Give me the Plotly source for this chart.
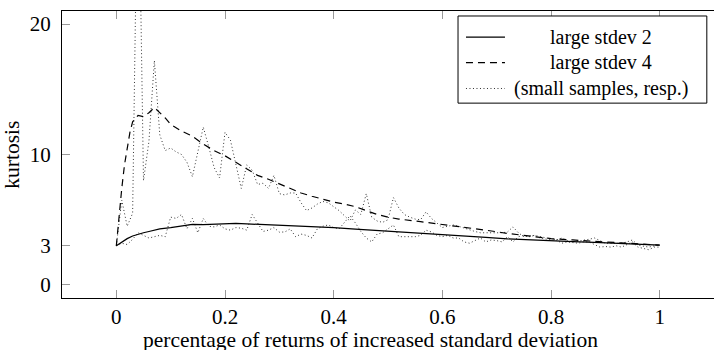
import plotly.graph_objects as go

# ---------------- data ----------------
# smooth curves (large samples)
x_l2 = [0, 0.01, 0.02, 0.03, 0.04, 0.05, 0.06, 0.08, 0.10, 0.12, 0.14, 0.16, 0.18, 0.20,
        0.22, 0.24, 0.26, 0.28, 0.30, 0.32, 0.36, 0.40, 0.44, 0.48, 0.52, 0.56, 0.60,
        0.64, 0.68, 0.72, 0.76, 0.80, 0.84, 0.88, 0.92, 0.96, 1.00]
y_l2 = [3.0, 3.3, 3.55, 3.75, 3.9, 4.0, 4.1, 4.3, 4.4, 4.55, 4.65, 4.62, 4.65, 4.7,
        4.72, 4.68, 4.65, 4.6, 4.58, 4.55, 4.48, 4.4, 4.28, 4.18, 4.1, 4.0, 3.9,
        3.78, 3.65, 3.53, 3.45, 3.38, 3.32, 3.27, 3.2, 3.12, 3.05]

x_l4 = [0, 0.005, 0.01, 0.015, 0.02, 0.025, 0.03, 0.04, 0.05, 0.06, 0.07, 0.08, 0.09,
        0.10, 0.12, 0.14, 0.16, 0.18, 0.20, 0.22, 0.24, 0.26, 0.28, 0.30, 0.32, 0.34,
        0.36, 0.38, 0.40, 0.42, 0.44, 0.46, 0.48, 0.50, 0.52, 0.56, 0.60, 0.64, 0.68,
        0.72, 0.76, 0.80, 0.84, 0.88, 0.92, 0.96, 1.00]
y_l4 = [3.0, 5.3, 7.4, 9.2, 10.6, 11.7, 12.5, 13.0, 12.9, 13.2, 13.6, 13.2, 12.8,
        12.3, 11.8, 11.4, 10.8, 10.3, 9.9, 9.4, 8.9, 8.4, 8.1, 7.75, 7.4, 7.05,
        6.8, 6.55, 6.35, 6.2, 6.0, 5.7, 5.4, 5.2, 5.05, 4.85, 4.65, 4.45, 4.2,
        3.95, 3.75, 3.55, 3.45, 3.35, 3.25, 3.15, 3.05]

# small-sample curves, x = 0.00, 0.01, ..., 1.00
x_small = [round(k / 100, 2) for k in range(101)]
y_s2 = [3.0, 3.2, 3.1, 3.5, 4.0, 3.8, 3.6, 3.7, 3.8, 3.7,
        5.2, 5.1, 5.4, 4.3, 5.1, 4.0, 5.1, 4.5, 4.45, 4.6,
        4.3, 4.2, 4.4, 4.35, 4.2, 5.4, 4.7, 4.1, 4.2, 4.4,
        4.05, 4.06, 4.3, 3.7, 3.9, 3.8, 3.6, 4.3, 4.5, 4.6,
        4.4, 4.3, 4.8, 5.3, 4.75, 4.1, 3.6, 3.3, 3.9, 4.0,
        4.3, 4.6, 3.7, 3.7, 3.7, 3.7, 3.8, 4.2, 4.06, 3.8,
        3.7, 3.8, 3.6, 3.6, 3.3, 3.2, 3.4, 3.6, 3.3, 3.45,
        3.4, 3.3, 3.7, 3.3, 3.7, 3.8, 3.7, 3.8, 3.6, 3.5,
        3.45, 3.45, 3.2, 3.3, 3.25, 3.2, 3.3, 3.3, 3.1, 2.9,
        2.95, 2.9, 3.0, 2.9, 3.1, 3.3, 2.9, 2.8, 2.7, 2.9,
        2.9]
y_s4 = [3.0, 6.5, 4.5, 5.5, 35.0, 8.0, 11.0, 17.2, 11.5, 10.3,
        10.5, 10.2, 10.0, 9.4, 8.3, 10.2, 12.1, 10.6, 9.0, 8.2,
        11.7, 11.1, 9.2, 7.4, 9.2, 8.8, 7.7, 7.8, 7.4, 8.4,
        7.0, 6.9, 7.05, 7.05, 6.3, 5.7, 5.9, 6.2, 6.4, 6.3,
        6.0, 5.7, 5.3, 4.9, 5.75, 5.4, 7.0, 5.2, 4.9, 4.8,
        5.0, 6.7, 5.9, 5.4, 5.2, 5.05, 5.0, 5.6, 5.1, 4.75,
        4.4, 4.5, 4.6, 4.5, 4.37, 4.2, 4.1, 4.0, 4.0, 4.0,
        4.0, 4.0, 4.06, 4.45, 4.0, 3.7, 3.75, 3.8, 3.7, 3.6,
        3.5, 3.45, 3.6, 3.4, 3.3, 3.35, 3.45, 3.5, 3.6, 3.4,
        3.2, 3.2, 3.2, 3.2, 3.3, 3.45, 3.05, 3.0, 2.9, 3.0,
        3.05]

x_ticks = [0, 0.2, 0.4, 0.6, 0.8, 1]
x_ticktext = ["0", "0.2", "0.4", "0.6", "0.8", "1"]
y_ticks = [0, 3, 10, 20]
legend_labels = ["large stdev 2", "large stdev 4", "(small samples, resp.)"]
x_title = "percentage of returns of increased standard deviation"
y_title = "kurtosis"

# ---------------- figure ----------------
FONT = "Liberation Serif"
DOT = "1px,2.5px"
DASH = "7px,5px"
DOTCOL = "#333"

fig = go.Figure()
fig.add_trace(go.Scatter(x=x_small, y=y_s2, mode="lines",
                         line=dict(color=DOTCOL, width=1, dash=DOT), showlegend=False))
fig.add_trace(go.Scatter(x=x_small, y=y_s4, mode="lines",
                         line=dict(color=DOTCOL, width=1, dash=DOT), showlegend=False))
fig.add_trace(go.Scatter(x=x_l4, y=y_l4, mode="lines",
                         line=dict(color="black", width=1.2, dash=DASH), showlegend=False))
fig.add_trace(go.Scatter(x=x_l2, y=y_l2, mode="lines",
                         line=dict(color="black", width=1.2), showlegend=False))

# manual legend (box, samples, centred labels)
bx0, bx1, by0, by1 = 0.6074, 0.989, 0.679, 0.9826
fig.add_shape(type="rect", xref="paper", yref="paper", x0=bx0, x1=bx1, y0=by0, y1=by1,
              line=dict(color="black", width=1), fillcolor="white", layer="above")
rows = [0.909, 0.820, 0.730]
styles = [dict(color="black", width=1.2),
          dict(color="black", width=1.2, dash=DASH),
          dict(color=DOTCOL, width=1, dash=DOT)]
for lab, ry, st in zip(legend_labels, rows, styles):
    fig.add_shape(type="line", xref="paper", yref="paper", x0=0.6196, x1=0.6794,
                  y0=ry, y1=ry, line=st, layer="above")
    fig.add_annotation(xref="paper", yref="paper", x=0.826, y=ry, text=lab,
                       showarrow=False, xanchor="center", yanchor="middle",
                       font=dict(family=FONT, size=20, color="black"))

fig.add_annotation(xref="paper", yref="paper", x=0.4724, y=-0.147, text=x_title,
                   showarrow=False, xanchor="center", yanchor="middle",
                   font=dict(family=FONT, size=21.5, color="black"))
fig.add_annotation(xref="paper", yref="paper", x=-0.078, y=0.5, text=y_title,
                   textangle=-90, showarrow=False, xanchor="center", yanchor="middle",
                   font=dict(family=FONT, size=21.5, color="black"))

fig.update_layout(
    width=714, height=350,
    margin=dict(l=62, r=0, t=11, b=52),
    paper_bgcolor="white", plot_bgcolor="white",
    font=dict(family=FONT, size=21, color="black"),
    xaxis=dict(range=[-0.1, 1.1], tickvals=x_ticks, ticktext=x_ticktext,
               showgrid=False, zeroline=False, showline=True, linecolor="black",
               linewidth=1, mirror="allticks", ticks="inside", ticklen=8,
               tickcolor="#999", tickwidth=1, ticklabelstandoff=0,
               tickfont=dict(family=FONT, size=21, color="black")),
    yaxis=dict(range=[-1, 21], tickvals=y_ticks, showgrid=False, zeroline=False,
               showline=True, linecolor="black", linewidth=1, mirror=False,
               ticks="inside", ticklen=8, tickcolor="#999", tickwidth=1,
               ticklabelstandoff=6,
               tickfont=dict(family=FONT, size=21, color="black")),
)

fig.write_html("out.html")
